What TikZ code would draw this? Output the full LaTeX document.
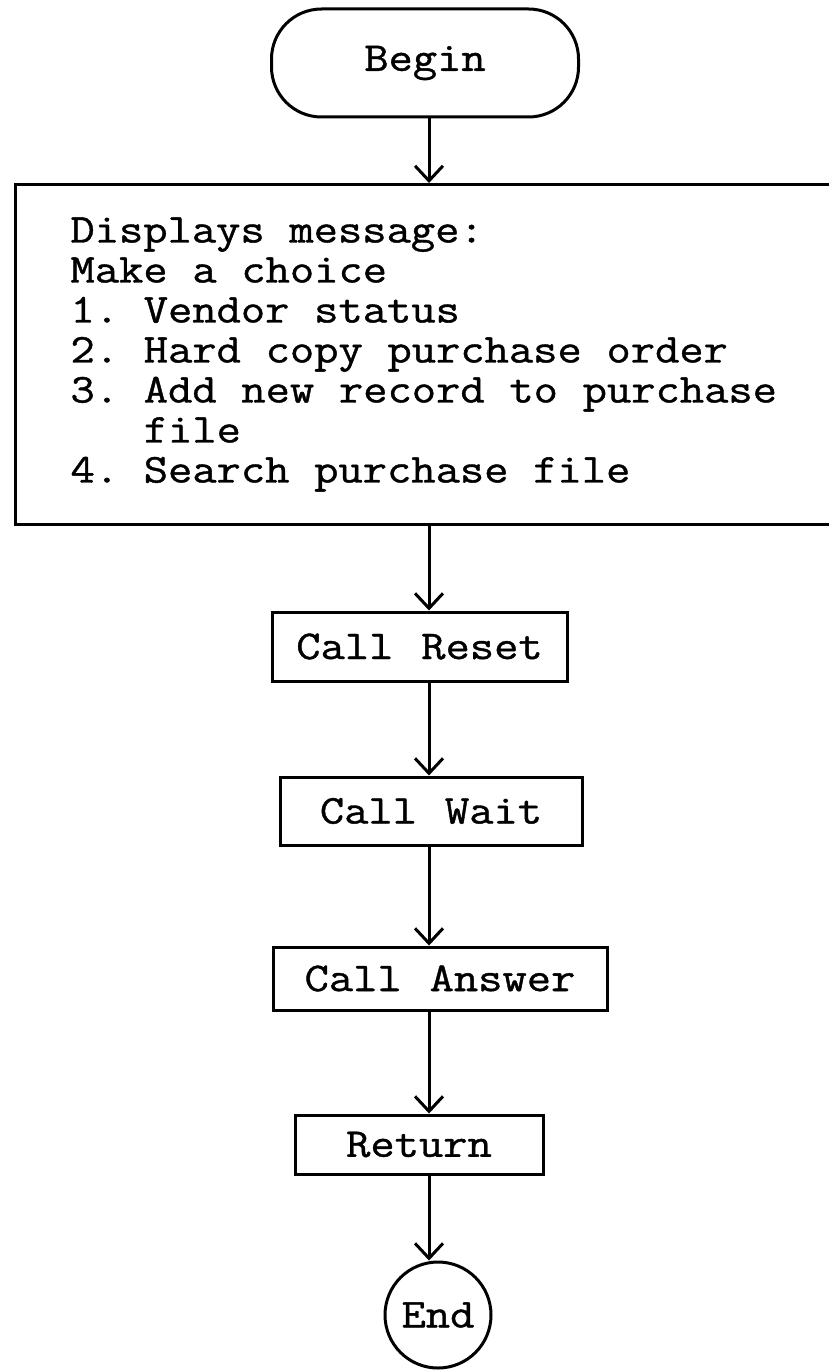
\documentclass[tikz,border=0pt]{standalone}
\usepackage{fontspec}
\newfontfamily\tw{Latin Modern Mono}[FakeStretch=1.15, FakeBold=1.0, WordSpace={1.15,0,0}]
\usetikzlibrary{arrows.meta}
\begin{document}
\begin{tikzpicture}[x=1pt,y=-1pt,
  every node/.style={font=\tw\fontsize{41}{40}\selectfont, line width=3pt, inner sep=0pt},
  stepbox/.style={draw, rectangle},
  arr/.style={line width=3pt, -{Straight Barb[length=15pt,width=28pt,line width=3pt]}}]
\clip (0,0) rectangle (829,1370);
\useasboundingbox (0,0) rectangle (829,1370);
\fill[white] (0,0) rectangle (829,1370);
\coordinate (ax) at (429,0);
\node[draw, rounded corners=50pt, minimum width=307pt, minimum height=108pt] (begin) at (425,63) {Begin};
\node[stepbox, anchor=north west, inner xsep=55pt, text width=736pt, align=left, minimum height=340pt] (menu) at (14,183)
  {\spaceskip=24.75pt\relax\xspaceskip=24.75pt\relax
   Displays message:\\Make a choice\\1. Vendor status\\2. Hard copy purchase order\\3. Add new record to purchase\\\hphantom{3.~}file\\4. Search purchase file};
\node[stepbox, minimum width=295pt, minimum height=69pt] (reset) at (419.5,646.5) {Call Reset};
\node[stepbox, minimum width=302pt, minimum height=68pt] (wait) at (431,811) {Call Wait};
\node[stepbox, minimum width=334pt, minimum height=63pt] (answer) at (440,978.5) {Call Answer};
\node[stepbox, minimum width=248pt, minimum height=59pt] (ret) at (419,1144.5) {Return};
\node[draw, circle, minimum size=106pt] (end) at (438,1315) {End};
\draw[arr] (begin.south -| ax) -- (menu.north -| ax);
\draw[arr] (menu.south -| ax) -- (reset.north -| ax);
\draw[arr] (reset.south -| ax) -- (wait.north -| ax);
\draw[arr] (wait.south -| ax) -- (answer.north -| ax);
\draw[arr] (answer.south -| ax) -- (ret.north -| ax);
\draw[arr] (ret.south -| ax) -- (end.north -| ax);
\end{tikzpicture}
\end{document}
